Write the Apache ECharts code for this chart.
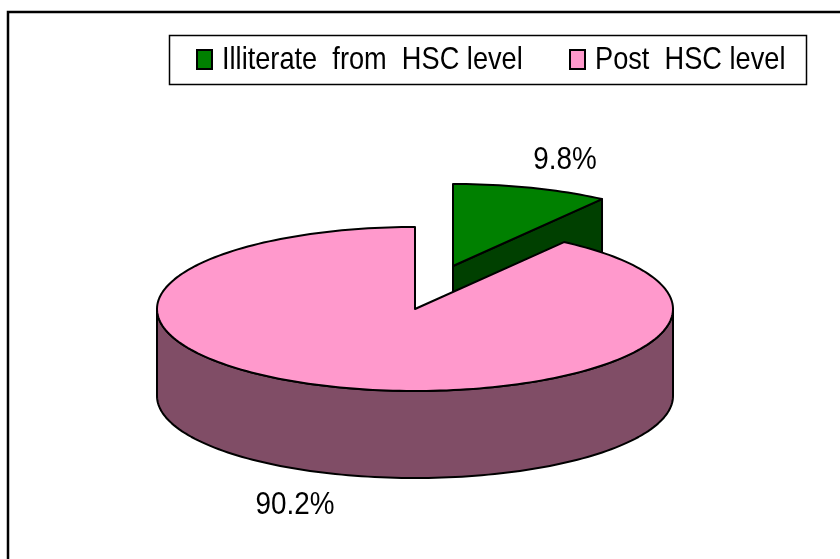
<!DOCTYPE html>
<html>
<head>
<meta charset="utf-8">
<script src="https://cdn.jsdelivr.net/npm/echarts@6/dist/echarts.min.js"></script>
<style>
html, body { margin: 0; padding: 0; background: #fff; }
#pie-chart { width: 840px; height: 559px; }
</style>
</head>
<body>
<div id="pie-chart"></div>
<script>
const sliceNames = ['Illiterate  from  HSC level', 'Post  HSC level'];
const sliceValues = [9.8, 90.2];
const topColors = ['#008000', '#FF99CC'];
const sideColors = ['#004000', '#804D66'];

// the 3d look: flattened ellipse plus a drop for the rim
const cx = 415, cy = 309, rx = 258, ry = 82, depth = 87;
const explode = [[38, -43], [0, 0]];
const labelPos = [[565, 160], [295, 505]];
const legendSwatchX = [197, 570];
const legendTextX = [222, 595];

const fontFamily = '"Liberation Sans", Arial, sans-serif';
const total = sliceValues.reduce((a, b) => a + b, 0);
const startAngles = [];
sliceValues.reduce((sum, v, i) => { startAngles[i] = sum / total * 360; return sum + v; }, 0);

function rad(d) { return d * Math.PI / 180; }

function rimPoint(deg, ox, oy, drop) {
  return [ox + rx * Math.sin(rad(deg)), oy - ry * Math.cos(rad(deg)) + drop];
}

function arc(from, to, ox, oy, drop) {
  let pts = [];
  let n = Math.max(1, Math.ceil(Math.abs(to - from) / 1.5));
  for (let i = 0; i <= n; i++) {
    pts.push(rimPoint(from + (to - from) * i / n, ox, oy, drop));
  }
  return pts;
}

function renderSlice(idx, params, api) {
  let value = api.value(0);
  let a0 = startAngles[idx];
  let a1 = a0 + value / total * 360;
  let ox = cx + explode[idx][0];
  let oy = cy + explode[idx][1];
  let line = { stroke: '#000', lineWidth: 2, lineJoin: 'round' };
  let children = [];
  let side = sideColors[idx];

  // outer wall, only the part turned to the viewer
  let f0 = Math.max(a0, 90), f1 = Math.min(a1, 270);
  if (f1 > f0) {
    children.push({
      type: 'polygon',
      shape: { points: arc(f0, f1, ox, oy, 0).concat(arc(f1, f0, ox, oy, depth)) },
      style: Object.assign({ fill: side }, line)
    });
  }
  // cut face at the end of the slice
  if (Math.cos(rad(a1 + 90)) < -1e-6) {
    let p = rimPoint(a1, ox, oy, 0);
    children.push({
      type: 'polygon',
      shape: { points: [[ox, oy], p, [p[0], p[1] + depth], [ox, oy + depth]] },
      style: Object.assign({ fill: side }, line)
    });
  }
  // top face
  children.push({
    type: 'polygon',
    shape: { points: [[ox, oy]].concat(arc(a0, a1, ox, oy, 0)) },
    style: Object.assign({ fill: topColors[idx] }, line)
  });
  children.push({
    type: 'text',
    x: labelPos[idx][0],
    y: labelPos[idx][1],
    scaleX: 0.87,
    style: {
      text: value.toFixed(1) + '%',
      fill: '#000',
      font: '32px ' + fontFamily,
      align: 'center',
      verticalAlign: 'middle'
    }
  });
  return { type: 'group', children: children };
}

// legend box is drawn by hand, the text is squeezed sideways in the original
function legendGraphics() {
  let items = [{
    type: 'rect',
    shape: { x: 169.5, y: 35.5, width: 637, height: 49 },
    style: { fill: '#fff', stroke: '#000', lineWidth: 1.5 },
    silent: true
  }];
  sliceNames.forEach((name, i) => {
    items.push({
      type: 'rect',
      shape: { x: legendSwatchX[i], y: 50, width: 15, height: 19 },
      style: { fill: topColors[i], stroke: '#000', lineWidth: 2 },
      silent: true
    });
    items.push({
      type: 'text',
      x: legendTextX[i],
      y: 60,
      scaleX: 0.85,
      style: {
        text: name,
        fill: '#000',
        font: '32px ' + fontFamily,
        align: 'left',
        verticalAlign: 'middle'
      },
      silent: true
    });
  });
  return items;
}

let myChart = echarts.init(document.getElementById('pie-chart'), null, { renderer: 'canvas' });
let option = {
  animation: false,
  backgroundColor: '#fff',
  graphic: [{
    type: 'polyline',
    shape: { points: [[8, 559], [8, 12], [840, 12]] },
    style: { fill: 'none', stroke: '#000', lineWidth: 2.5 },
    silent: true,
    z: 0
  }].concat(legendGraphics()),
  series: sliceNames.map((name, i) => ({
    type: 'custom',
    name: name,
    coordinateSystem: 'none',
    silent: true,
    data: [[sliceValues[i]]],
    renderItem: (params, api) => renderSlice(i, params, api)
  }))
};
myChart.setOption(option);
</script>
</body>
</html>
